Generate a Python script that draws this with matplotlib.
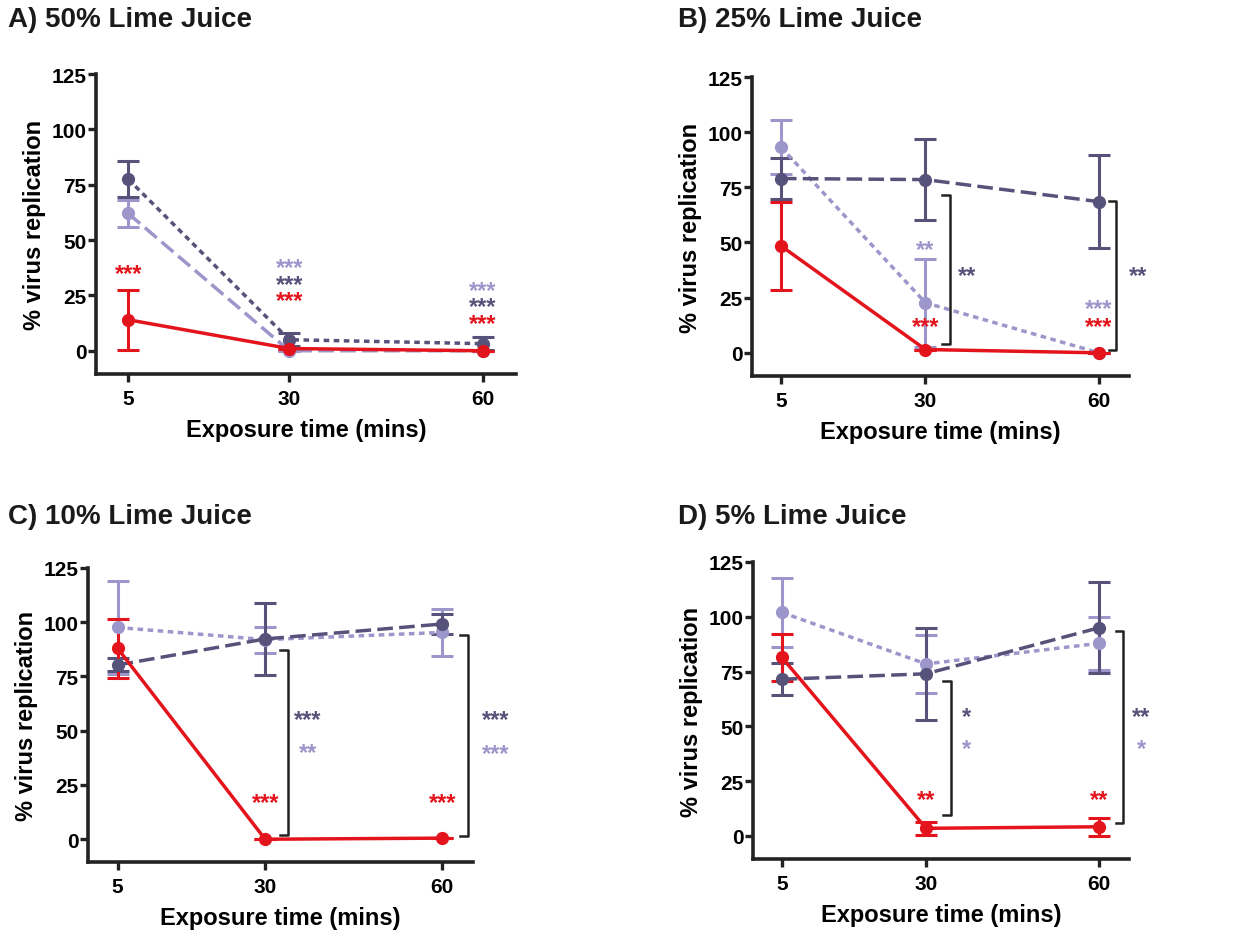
import matplotlib
matplotlib.use('agg')
import matplotlib.pyplot as plt

# Data
times = [5, 30, 60]
panel_titles = ["A) 50% Lime Juice", "B) 25% Lime Juice",
                "C) 10% Lime Juice", "D) 5% Lime Juice"]

# red (solid), dark purple, light purple: mean and error per time point
red_mean = [[14, 1, 0], [48.5, 1.5, 0], [88, 0, 0.5], [81.5, 3.5, 4.2]]
red_err = [[13.5, 0, 0], [20, 0, 0], [13.5, 0, 0], [10.6, 3, 4]]
dark_mean = [[77.5, 5, 3.2], [79, 78.5, 68.5], [80.3, 92.3, 99.2], [71.5, 74, 95]]
dark_err = [[8, 3, 3], [9.5, 18.3, 21], [3, 16.5, 4.6], [7.2, 21, 20.7]]
light_mean = [[62, 0, 0], [93.2, 22.7, 0], [97.6, 92, 95.3], [102, 78.5, 87.9]]
light_err = [[6, 0, 0], [12.3, 20, 0], [21.5, 6, 10.7], [15.7, 13.3, 12.2]]

# significance stars: (x, y, text, series)
stars = [
    [(5, 35, '***', 'red'), (30, 37.5, '***', 'light'), (30, 30, '***', 'dark'),
     (30, 22.5, '***', 'red'), (60, 27, '***', 'light'), (60, 20, '***', 'dark'),
     (60, 12.5, '***', 'red')],
    [(30, 47, '**', 'light'), (30, 12, '***', 'red'),
     (60, 20, '***', 'light'), (60, 12, '***', 'red'),
     (37.2, 35, '**', 'dark'), (66.8, 35, '**', 'dark')],
    [(30, 17, '***', 'red'), (60, 17, '***', 'red'),
     (37.2, 55, '***', 'dark'), (37.2, 40, '**', 'light'),
     (69, 55, '***', 'dark'), (69, 39.5, '***', 'light')],
    [(30, 16.5, '**', 'red'), (60, 16.5, '**', 'red'),
     (37, 54.5, '*', 'dark'), (37, 40, '*', 'light'),
     (67.3, 54.5, '**', 'dark'), (67.3, 40, '*', 'light')],
]
# brackets: (x, y_low, y_high) in data units
brackets = [
    [],
    [(34.2, 4, 71.6), (63.0, 1.4, 69)],
    [(33.8, 2, 87.3), (64.3, 1.5, 94)],
    [(34.3, 9.5, 70.9), (64.2, 6, 93.6)],
]

colors = {'red': '#e3141c', 'dark': '#57527a', 'light': '#9d96cb'}
short_dash = (0, (1.6, 1.3))
long_dash = (0, (4.5, 1.8))
# panel A: short dashes for dark, long for light; the others swap
dash_styles = [(short_dash, long_dash), (long_dash, short_dash),
               (long_dash, short_dash), (long_dash, short_dash)]

plt.rcParams['font.family'] = ['Liberation Sans', 'DejaVu Sans']
plt.rcParams['font.weight'] = 'bold'

W, H = 1252, 937
fig = plt.figure(figsize=(W / 100, H / 100), dpi=100)

# axes boxes in pixels: left, right, top, bottom
boxes = [(96, 516, 75, 375), (752, 1129, 78, 377),
         (88, 473, 569, 863), (753, 1129, 563, 860)]
title_pos = [(8, 20), (678, 20), (8, 517), (678, 517)]

for i in range(4):
    l, r, t, b = boxes[i]
    ax = fig.add_axes([l / W, 1 - b / H, (r - l) / W, (b - t) / H])
    ax.set_xlim(0, 65.2)
    ax.set_ylim(-10.5, 125)

    dark_ls, light_ls = dash_styles[i]
    series = [('light', light_mean[i], light_err[i], light_ls),
              ('dark', dark_mean[i], dark_err[i], dark_ls),
              ('red', red_mean[i], red_err[i], '-')]
    for name, m, e, ls in series:
        c = colors[name]
        ax.errorbar(times, m, yerr=e, color=c, ecolor=c, elinewidth=2.2,
                    capsize=8, capthick=2.2, linestyle='none', zorder=2,
                    clip_on=False)
        ax.plot(times, m, color=c, lw=2.5, linestyle=ls, marker='o',
                markersize=8.5, zorder=3, clip_on=False)

    for x, y, txt, s in stars[i]:
        ax.text(x, y, txt, color=colors[s], fontsize=17, fontweight='bold',
                ha='center', va='center', clip_on=False)

    for x, y0, y1 in brackets[i]:
        ax.plot([x - 1.3, x, x, x - 1.3], [y1, y1, y0, y0], color='#222222',
                lw=1.8, clip_on=False, zorder=4)

    for side in ['top', 'right']:
        ax.spines[side].set_visible(False)
    for side in ['left', 'bottom']:
        ax.spines[side].set_linewidth(2.6)
        ax.spines[side].set_color('#222222')

    ax.set_xticks(times)
    ax.set_yticks([0, 25, 50, 75, 100, 125])
    ax.tick_params(axis='x', length=6, width=2.4, labelsize=15, pad=5,
                   color='#222222')
    ax.tick_params(axis='y', length=6, width=2.4, labelsize=15, pad=1,
                   color='#222222')
    ax.set_xlabel('Exposure time (mins)', fontsize=17, fontweight='bold',
                  labelpad=7)
    ax.set_ylabel('% virus replication', fontsize=17, fontweight='bold',
                  labelpad=4)

    tx, ty = title_pos[i]
    fig.text(tx / W, 1 - ty / H, panel_titles[i], fontsize=20,
             fontweight='bold', ha='left', va='center', color='#1a1a1a')

fig.savefig('out.png', dpi=100, facecolor='white')
